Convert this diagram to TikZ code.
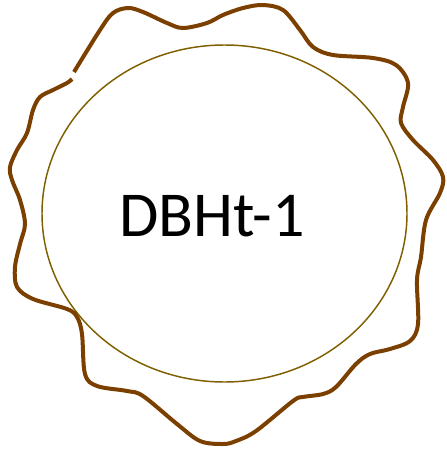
\documentclass[tikz,border=0pt]{standalone}
\usepackage{fontspec}
\setmainfont{Carlito}
\definecolor{rimbrown}{RGB}{123,63,0}
\definecolor{ringgold}{RGB}{127,96,0}

\begin{document}
\begin{tikzpicture}[
    x=0.75pt, y=-0.75pt,
    wave/.style={rimbrown, line width=3pt, line cap=butt}, % Style for the wavy rim
    ring/.style={ringgold, line width=1.1pt}             % Style for the inner ellipse
]

% Canvas
\useasboundingbox (0,0) rectangle (446,449);

% Inner Ellipse
\draw[ring] (224.5,213.5) ellipse [x radius=182.5, y radius=168.5];

% Wavy Rim - open at the small gap on the upper left
\draw[wave] plot [smooth, tension=0.55] coordinates {
    (74,72) (100,30) (113,13) (128,8) (143,12) (167,23) (183,28) (207,23)
    (223,15) (243,8) (263,5) (283,10) (300,30) (313,47) (333,55) (373,58)
    (396,65) (408,83) (403,107) (401,123) (413,140) (433,160) (443,177)
    (440,193) (426,220) (421,257) (417,280) (418,324) (410,341)
    (390,349) (370,354) (356,364) (336,387) (323,394) (303,397) (293,401)
    (256,431) (236,441) (223,444) (200,441) (177,424) (143,396) (127,391)
    (97,386) (85,374) (82,334) (77,317) (67,309) (33,299) (17,287) (15,267)
    (20,244) (25,224) (20,200) (12,180) (10,167) (17,150) (27,133) (33,110)
    (40,97) (53,90) (67,83) (72,79)
};

% Label
\node[font=\fontsize{48}{58}\selectfont, inner sep=0pt] (title) at (212,216) {DBHt-1};

\end{tikzpicture}
\end{document}
